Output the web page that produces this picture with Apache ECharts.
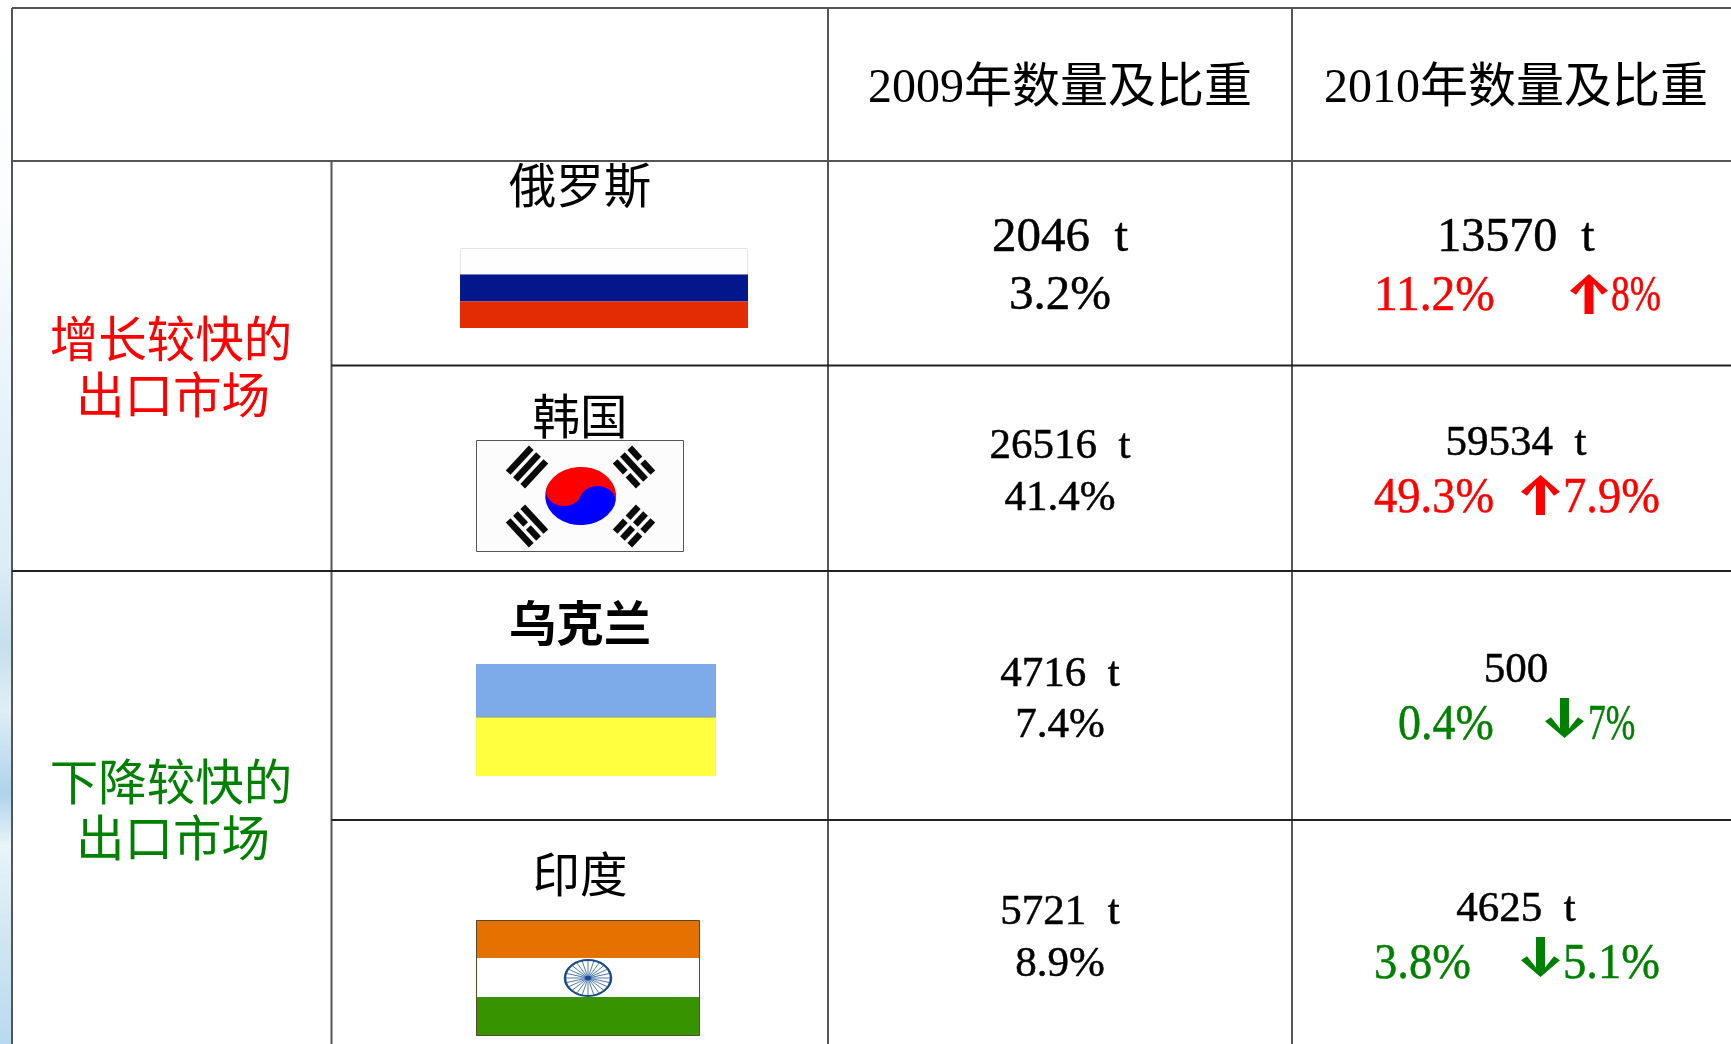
<!DOCTYPE html>
<html>
<head>
<meta charset="utf-8">
<title>出口市场</title>
<script src="https://cdn.jsdelivr.net/npm/echarts@6/dist/echarts.min.js"></script>
<style>
  html, body { margin: 0; padding: 0; background: #fff; }
  #main { width: 1731px; height: 1044px; }
</style>
</head>
<body>
<div id="main"></div>
<script>
// 表格内容
const headers = ['2009年数量及比重', '2010年数量及比重'];
const groupNames = ['增长较快的', '出口市场', '下降较快的', '出口市场'];
const countries = ['俄罗斯', '韩国', '乌克兰', '印度'];
const amount2009 = ['2046  t', '26516  t', '4716  t', '5721  t'];
const share2009 = ['3.2%', '41.4%', '7.4%', '8.9%'];
const amount2010 = ['13570  t', '59534  t', '500', '4625  t'];
const share2010 = ['11.2%', '49.3%', '0.4%', '3.8%'];
const change2010 = ['8%', '7.9%', '7%', '5.1%'];
const flagNames = ['russia', 'korea', 'ukraine', 'india'];

const RED = '#ff0000';
const GREEN = '#008000';
const FONT = '"Liberation Serif","Noto Sans CJK SC"';
const CJK = '"Noto Sans CJK SC"';

// 表格线位置
const colX = [12, 331.5, 828, 1292];
const rowY = [8, 161, 365.5, 571, 820];

// 每行文字的位置和字号
const col2009 = [
  { y1: 238.5, y2: 296.5, size: 49 },
  { y1: 446.5, y2: 498.5, size: 43 },
  { y1: 674.5, y2: 725.5, size: 43 },
  { y1: 912.5, y2: 964.5, size: 43 }
];
const col2010 = [
  { y1: 238.5, y2: 296.5, size: 48, tone: RED, left: 1374, sx: 0.95, up: true, ax: [1570, 1608], ay: [274, 314], cx: 1611, csize: 50, csx: 0.75 },
  { y1: 443.5, y2: 498.5, size: 43, tone: RED, left: 1374, sx: 0.93, up: true, ax: [1521, 1560], ay: [475, 515], cx: 1563, csize: 50, csx: 0.93 },
  { y1: 670.5, y2: 725.5, size: 43, tone: GREEN, left: 1398, sx: 0.92, up: false, ax: [1545, 1584], ay: [698, 738], cx: 1588, csize: 50, csx: 0.71 },
  { y1: 909.5, y2: 964.5, size: 43, tone: GREEN, left: 1374, sx: 0.93, up: false, ax: [1521, 1560], ay: [937, 977], cx: 1563, csize: 50, csx: 0.93 }
];
const countryY = [185, 416, 623, 874];
const groupLabelPos = [[171, 338.5, RED], [173, 395, RED], [171, 781.5, GREEN], [173, 838, GREEN]];

// 组装文字列表
const texts = [];
function addText(x, y, text, size, color, opts) {
  texts.push(Object.assign({ x, y, text, size, color, align: 'center', sx: 1, family: FONT, weight: 'normal', heavy: 0.5 }, opts));
}
addText(1060, 89.5, headers[0], 48, '#000', { heavy: 0 });
addText(1516, 89.5, headers[1], 48, '#000', { heavy: 0 });
groupNames.forEach((name, i) => {
  const p = groupLabelPos[i];
  addText(p[0], p[1], name, 48.5, p[2], { family: CJK, heavy: 0 });
});
countries.forEach((name, i) => {
  addText(580, countryY[i], name, 47.5, '#000', { family: CJK, weight: i === 2 ? 'bold' : 'normal', heavy: 0 });
  const a = col2009[i];
  addText(1060, a.y1, amount2009[i], a.size, '#000');
  addText(1060, a.y2, share2009[i], a.size, '#000');
  const b = col2010[i];
  addText(1516, b.y1, amount2010[i], b.size, '#000');
  addText(b.left, b.y2, share2010[i], 50, b.tone, { align: 'left', sx: b.sx });
  addText(b.cx, b.y2, change2010[i], b.csize, b.tone, { align: 'left', sx: b.csx });
});

function renderText(params, api) {
  const t = texts[params.dataIndex];
  const p = api.coord([t.x, t.y]);
  const style = {
    text: t.text,
    fill: t.color,
    font: t.weight + ' ' + t.size + 'px ' + t.family,
    align: t.align,
    verticalAlign: 'middle'
  };
  if (t.heavy) {
    style.stroke = t.color;
    style.lineWidth = t.heavy;
  }
  return { type: 'text', x: p[0], y: p[1], scaleX: t.sx, style: style };
}

// 表格线
const gridLines = [
  [colX[0], rowY[0], colX[0], 1044, '#555', 2],
  [colX[1], rowY[1], colX[1], 1044, '#555', 2],
  [colX[2], rowY[0], colX[2], 1044, '#555', 2],
  [colX[3], rowY[0], colX[3], 1044, '#555', 2],
  [colX[0], rowY[0], 1731, rowY[0], '#555', 2],
  [colX[0], rowY[1], 1731, rowY[1], '#555', 2],
  [colX[1], rowY[2], 1731, rowY[2], '#222', 2],
  [colX[0], rowY[3], 1731, rowY[3], '#222', 2],
  [colX[1], rowY[4], 1731, rowY[4], '#222', 2]
];

function renderLine(params, api) {
  const l = gridLines[params.dataIndex];
  const a = api.coord([l[0], l[1]]);
  const b = api.coord([l[2], l[3]]);
  return {
    type: 'line',
    shape: { x1: a[0], y1: a[1], x2: b[0], y2: b[1] },
    style: { stroke: l[4], lineWidth: l[5] }
  };
}

// 左侧的蓝色背景条
function renderStrip(params, api) {
  const a = api.coord([0, 0]);
  const b = api.coord([11, 1044]);
  return {
    type: 'rect',
    shape: { x: a[0], y: a[1], width: b[0] - a[0], height: b[1] - a[1] },
    style: {
      fill: new echarts.graphic.LinearGradient(0, 0, 0, 1, [
        { offset: 0, color: '#ffffff' },
        { offset: 0.2, color: '#fbfdfe' },
        { offset: 0.38, color: '#e8f3fa' },
        { offset: 0.54, color: '#dcedf6' },
        { offset: 0.62, color: '#c6e0ec' },
        { offset: 0.68, color: '#e0eef6' },
        { offset: 0.76, color: '#aed3ec' },
        { offset: 0.81, color: '#e8f4f8' },
        { offset: 0.91, color: '#cde5f0' },
        { offset: 1, color: '#b8daef' }
      ])
    }
  };
}

// 箭头
function renderArrow(params, api) {
  const b = col2010[params.dataIndex];
  const x0 = b.ax[0], x1 = b.ax[1], mid = (x0 + x1) / 2;
  const top = b.up ? b.ay[0] : b.ay[1];
  const end = b.up ? b.ay[1] : b.ay[0];
  const h = end - top;
  const pts = [
    [mid, top], [x1, top + h * 0.42], [x1 - 6, top + h * 0.52], [mid + 4.5, top + h * 0.24],
    [mid + 4.5, end], [mid - 4.5, end], [mid - 4.5, top + h * 0.24],
    [x0 + 6, top + h * 0.52], [x0, top + h * 0.42]
  ].map(p => api.coord(p));
  return { type: 'polygon', shape: { points: pts }, style: { fill: b.tone } };
}

function band(api, x0, y0, x1, y1, fill, stroke) {
  const a = api.coord([x0, y0]);
  const b = api.coord([x1, y1]);
  const style = { fill: fill };
  if (stroke) { style.stroke = stroke; style.lineWidth = 1; }
  return { type: 'rect', shape: { x: a[0], y: a[1], width: b[0] - a[0], height: b[1] - a[1] }, style: style };
}

function flagRussia(api) {
  return [
    band(api, 460.5, 248.5, 747.5, 275, '#fefefe', '#e4e4e4'),
    band(api, 460, 274.5, 748, 301.5, '#04168c'),
    band(api, 460, 301.5, 748, 328, '#e32b04')
  ];
}

function flagKorea(api) {
  const kids = [band(api, 476.5, 440.5, 683.5, 551.5, '#fcfcfc', '#555')];
  const c = api.coord([580.7, 496]);
  const R = 35.5;
  kids.push({
    type: 'group', x: c[0], y: c[1], scaleY: 0.82,
    children: [{
      type: 'group', rotation: -0.32,
      children: [
        { type: 'sector', shape: { cx: 0, cy: 0, r: R, startAngle: Math.PI, endAngle: Math.PI * 2 }, style: { fill: '#ff0000' } },
        { type: 'sector', shape: { cx: 0, cy: 0, r: R, startAngle: 0, endAngle: Math.PI }, style: { fill: '#0000ff' } },
        { type: 'circle', shape: { cx: -R / 2, cy: 0, r: R / 2 }, style: { fill: '#ff0000' } },
        { type: 'circle', shape: { cx: R / 2, cy: 0, r: R / 2 }, style: { fill: '#0000ff' } }
      ]
    }]
  });
  // 四角的卦：[中心x, 中心y, 方向x, 方向y, 每条是否断开]
  const trigrams = [
    [527, 467, 0.68, -0.73, [false, false, false]],
    [634, 467, 0.68, 0.73, [true, false, true]],
    [527, 526, 0.68, 0.73, [false, true, false]],
    [634, 526, -0.68, 0.73, [true, true, true]]
  ];
  trigrams.forEach(t => {
    const dx = t[2], dy = t[3];
    const nx = -dy, ny = dx;
    t[4].forEach((broken, k) => {
      const ox = t[0] + nx * (k - 1) * 10, oy = t[1] + ny * (k - 1) * 10;
      const segs = broken ? [[-17, -2], [2, 17]] : [[-17, 17]];
      segs.forEach(s => {
        kids.push({
          type: 'line',
          shape: { x1: ox + dx * s[0], y1: oy + dy * s[0], x2: ox + dx * s[1], y2: oy + dy * s[1] },
          style: { stroke: '#0a0a0a', lineWidth: 6.5 }
        });
      });
    });
  });
  return kids;
}

function flagUkraine(api) {
  return [
    band(api, 476, 664, 716, 717, '#7dabe9'),
    band(api, 476, 717, 716, 776, '#ffff40'),
    { type: 'line', shape: { x1: 476, y1: 717, x2: 716, y2: 717 }, style: { stroke: '#7f9a9a', lineWidth: 1 } }
  ];
}

function flagIndia(api) {
  const c = api.coord([588, 978]);
  const spokes = [];
  for (let i = 0; i < 24; i++) {
    const ang = i * Math.PI / 12;
    spokes.push({
      type: 'line',
      shape: { x1: 0, y1: 0, x2: 23 * Math.cos(ang), y2: 23 * Math.sin(ang) },
      style: { stroke: '#3a6aa8', lineWidth: 1 }
    });
  }
  return [
    band(api, 476, 920, 699.5, 958, '#e57200'),
    band(api, 476, 958, 699.5, 997, '#ffffff'),
    band(api, 476, 997, 699.5, 1035.5, '#379400'),
    band(api, 476.5, 920.5, 699.5, 1035.5, 'transparent', '#5a4a2a'),
    {
      type: 'group', x: c[0], y: c[1], scaleY: 0.78,
      children: spokes.concat([
        { type: 'circle', shape: { cx: 0, cy: 0, r: 23 }, style: { fill: 'transparent', stroke: '#1c4a86', lineWidth: 2.5 } },
        { type: 'circle', shape: { cx: 0, cy: 0, r: 3 }, style: { fill: '#1c4a86' } }
      ])
    }
  ];
}

const flagDrawers = { russia: flagRussia, korea: flagKorea, ukraine: flagUkraine, india: flagIndia };

function renderFlag(params, api) {
  return { type: 'group', children: flagDrawers[flagNames[params.dataIndex]](api) };
}

function customSeries(name, count, renderItem) {
  return {
    name: name,
    type: 'custom',
    coordinateSystem: 'cartesian2d',
    silent: true,
    clip: false,
    data: new Array(count).fill(0).map((_, i) => [i, i]),
    encode: { x: 0, y: 1 },
    renderItem: renderItem
  };
}

const chart = echarts.init(document.getElementById('main'));
chart.setOption({
  animation: false,
  backgroundColor: '#ffffff',
  grid: { left: 0, right: 0, top: 0, bottom: 0 },
  xAxis: { type: 'value', min: 0, max: 1731, show: false },
  yAxis: { type: 'value', min: 0, max: 1044, inverse: true, show: false },
  series: [
    customSeries('strip', 1, renderStrip),
    customSeries('flags', flagNames.length, renderFlag),
    customSeries('lines', gridLines.length, renderLine),
    customSeries('arrows', col2010.length, renderArrow),
    customSeries('texts', texts.length, renderText)
  ]
});
</script>
</body>
</html>
